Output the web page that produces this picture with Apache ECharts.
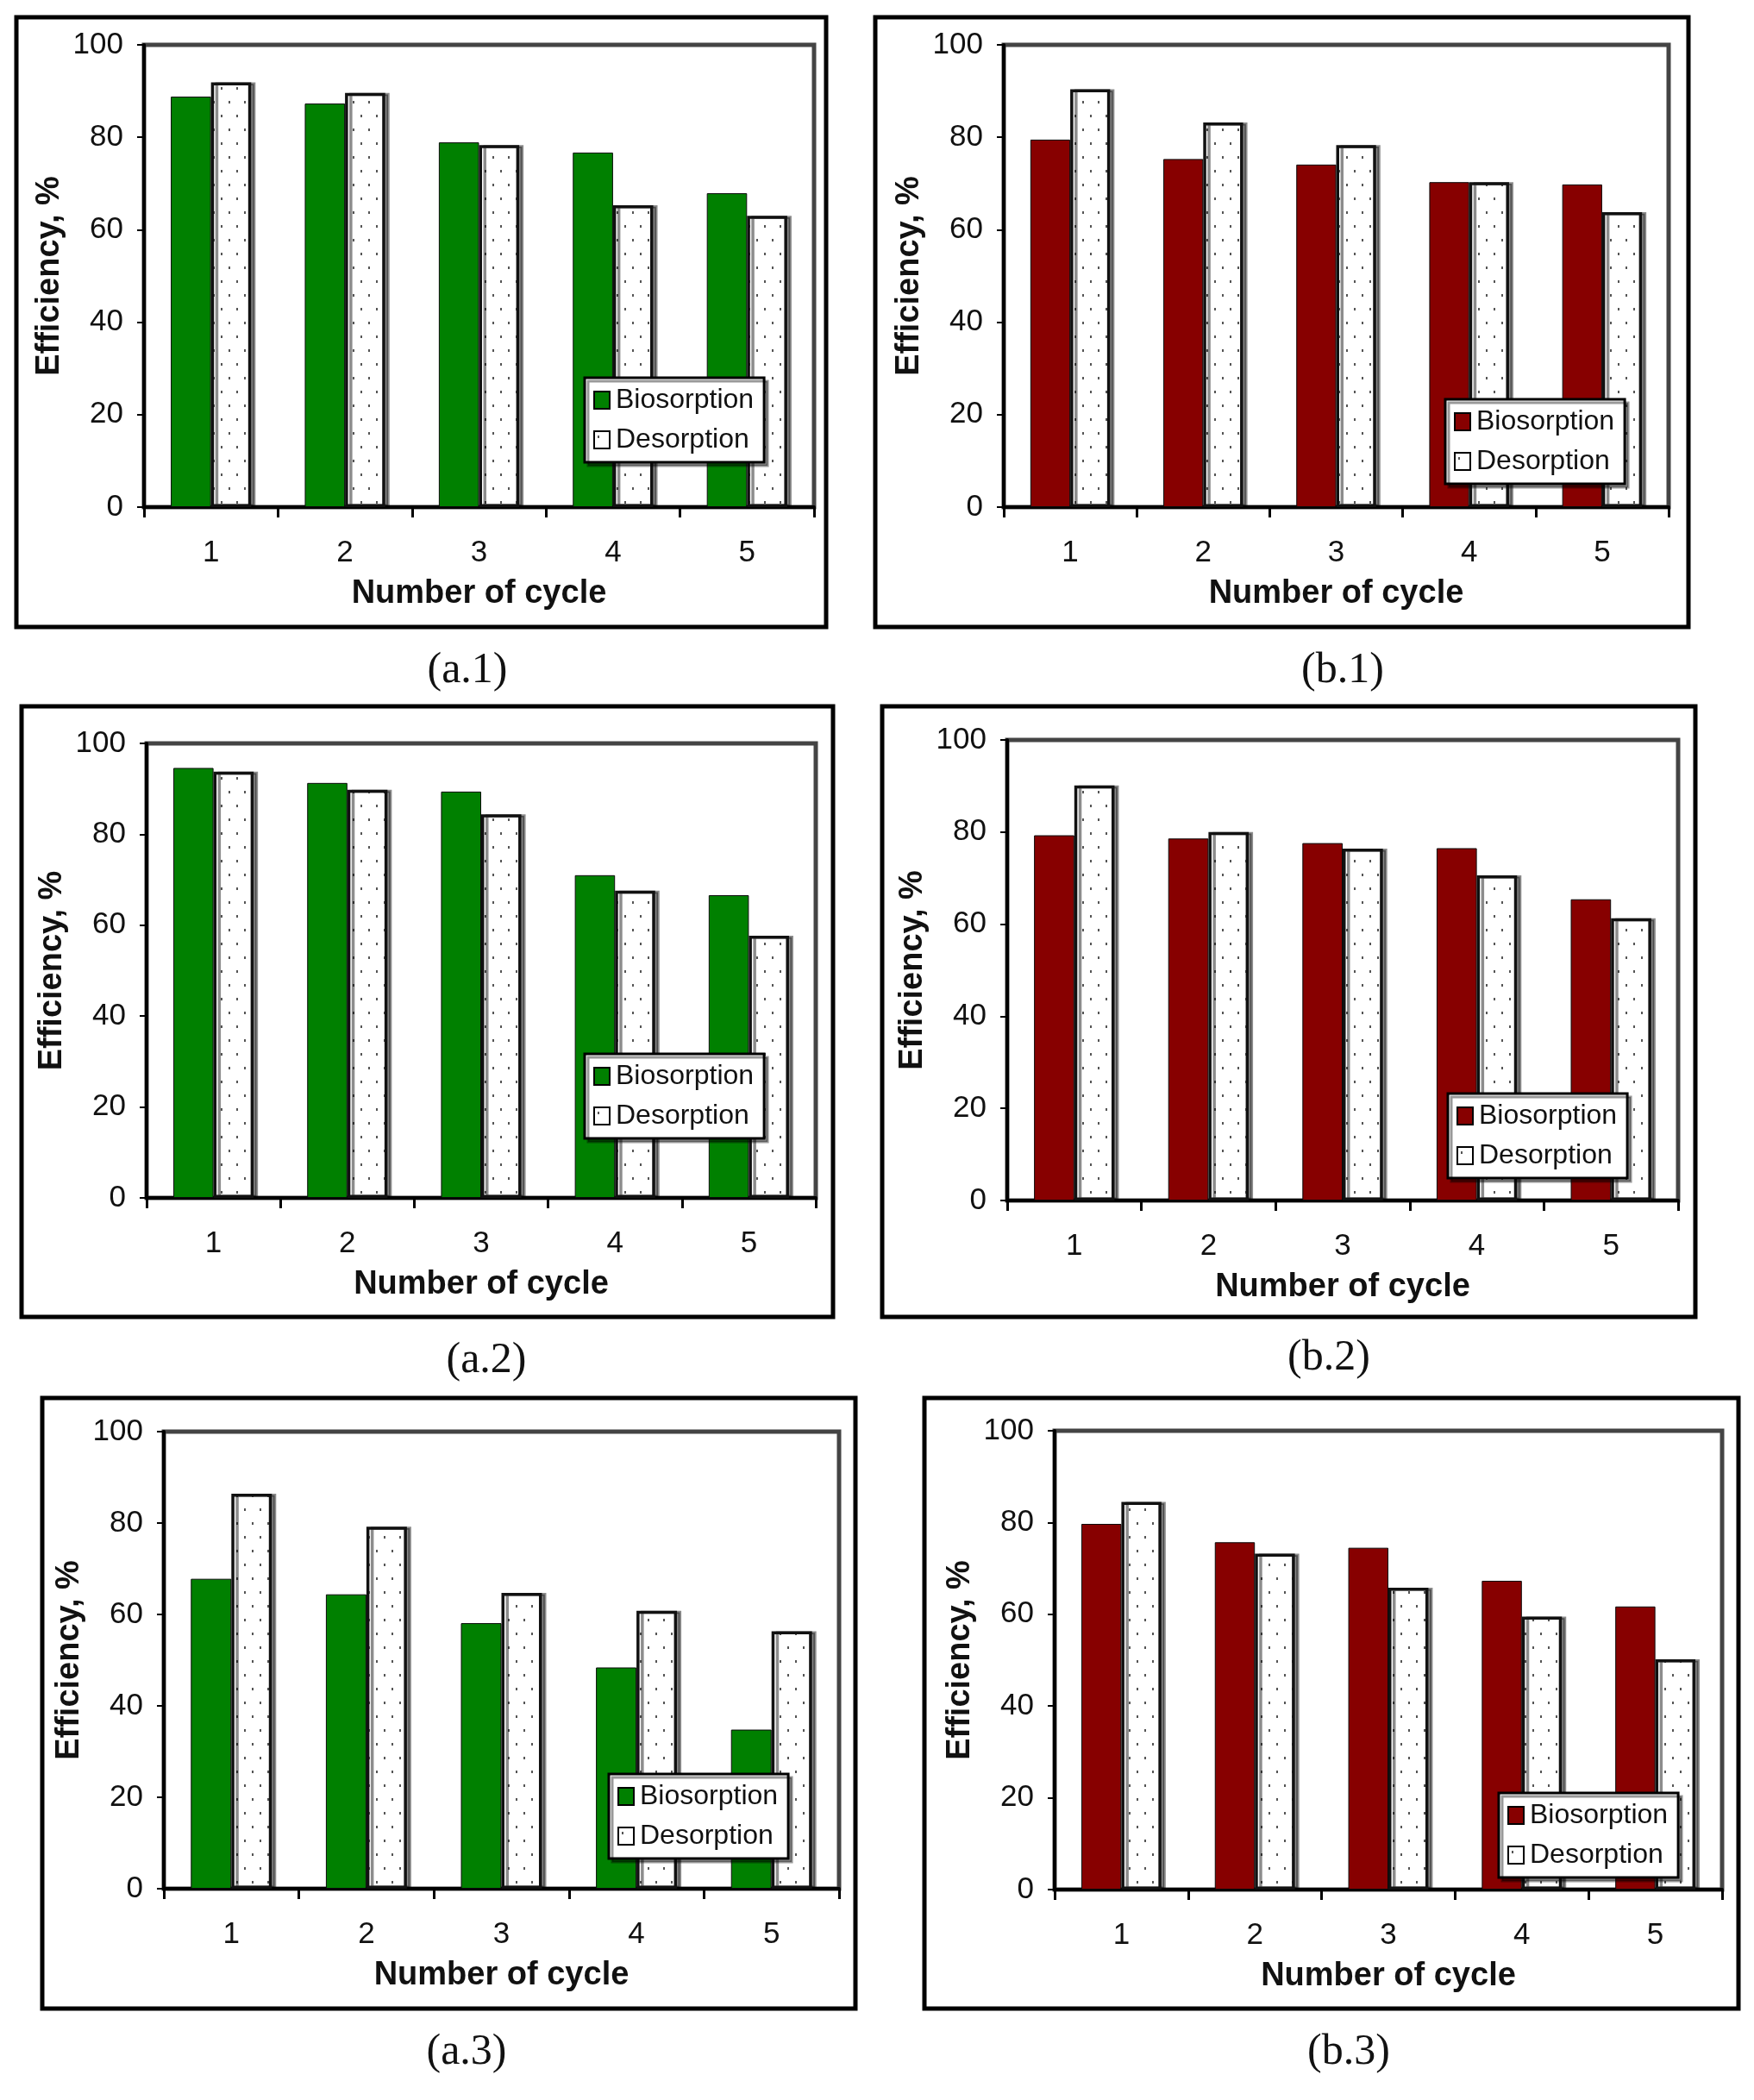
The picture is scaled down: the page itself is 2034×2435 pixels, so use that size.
<!DOCTYPE html>
<html><head><meta charset="utf-8">
<script src="https://cdn.jsdelivr.net/npm/echarts@6/dist/echarts.min.js"></script>
<style>html,body{margin:0;padding:0;background:#fff}#c{width:2034px;height:2435px}</style>
</head><body><div id="c"></div>
<script>
// ---------------- data ----------------
const cycles = ['1', '2', '3', '4', '5'];
const yTicks = [0, 20, 40, 60, 80, 100];
const seriesNames = ['Biosorption', 'Desorption'];
const xTitle = 'Number of cycle';
const yTitle = 'Efficiency, %';
const captions = ['(a.1)', '(b.1)', '(a.2)', '(b.2)', '(a.3)', '(b.3)'];

const bioA1 = [88.8, 87.3, 78.9, 76.7, 67.9];
const desA1 = [91.9, 89.6, 78.3, 65.3, 63.0];
const bioB1 = [79.5, 75.3, 74.1, 70.3, 69.8];
const desB1 = [90.4, 83.2, 78.3, 70.3, 63.8];
const bioA2 = [94.6, 91.3, 89.4, 71.0, 66.6];
const desA2 = [93.8, 89.8, 84.4, 67.6, 57.7];
const bioB2 = [79.3, 78.6, 77.6, 76.5, 65.4];
const desB2 = [90.1, 80.0, 76.4, 70.6, 61.3];
const bioA3 = [67.8, 64.4, 58.1, 48.4, 34.8];
const desA3 = [86.4, 79.2, 64.7, 60.8, 56.3];
const bioB3 = [79.7, 75.7, 74.5, 67.3, 61.7];
const desB3 = [84.5, 73.2, 65.8, 59.5, 50.2];

const panelBio = [bioA1, bioB1, bioA2, bioB2, bioA3, bioB3];
const panelDes = [desA1, desB1, desA2, desB2, desA3, desB3];

// ---------------- layout / style ----------------
const GREEN = '#008000', RED = '#870000';
const panelColor = [GREEN, RED, GREEN, RED, GREEN, RED];
const layout = [
  {box: [19, 20, 958, 727],    grid: [167, 52, 944, 588],    legend: [678, 438],   cap: [542, 778]},
  {box: [1015, 20, 1958, 727], grid: [1164, 52, 1935, 588],  legend: [1676, 463],  cap: [1557, 778]},
  {box: [25, 819, 966, 1527],  grid: [170, 862, 946, 1389],  legend: [678, 1222],  cap: [564, 1578]},
  {box: [1023, 819, 1966, 1527], grid: [1168, 858, 1946, 1392], legend: [1679, 1268], cap: [1541, 1575]},
  {box: [49, 1621, 992, 2329], grid: [190, 1660, 973, 2190], legend: [706, 2057],  cap: [541, 2380]},
  {box: [1072, 1621, 2016, 2329], grid: [1223, 1659, 1997, 2191], legend: [1738, 2079], cap: [1564, 2380]}
];

// dotted fill pattern for desorption bars
const pat = document.createElement('canvas');
pat.width = 18; pat.height = 32;
const pc = pat.getContext('2d');
pc.fillStyle = '#ffffff'; pc.fillRect(0, 0, 18, 32);
pc.fillStyle = '#555555';
pc.fillRect(4, 5, 2, 3);
pc.fillRect(13, 21, 2, 3);

const SANS = '"Liberation Sans", Arial, sans-serif';

const grids = [], xAxes = [], yAxes = [], series = [], legends = [], graphics = [];
layout.forEach((L, i) => {
  const [l, t, r, b] = L.grid;
  grids.push({left: l, top: t, width: r - l, height: b - t, show: true,
    backgroundColor: '#fff', borderColor: '#444', borderWidth: 5, containLabel: false});
  xAxes.push({type: 'category', gridIndex: i, data: cycles, boundaryGap: true,
    name: xTitle, nameLocation: 'middle', nameGap: 82,
    nameTextStyle: {fontFamily: SANS, fontSize: 38, fontWeight: 'bold', color: '#111'},
    axisLine: {show: true, lineStyle: {color: '#000', width: 4}},
    axisTick: {show: true, inside: false, length: 12, alignWithLabel: false, interval: 0,
      lineStyle: {color: '#000', width: 3}},
    axisLabel: {fontFamily: SANS, fontSize: 35, color: '#111', margin: 36, interval: 0},
    splitLine: {show: false}});
  yAxes.push({type: 'value', gridIndex: i, min: yTicks[0], max: yTicks[yTicks.length - 1],
    interval: yTicks[1] - yTicks[0],
    name: yTitle, nameLocation: 'middle', nameGap: 90, nameRotate: 90,
    nameTextStyle: {fontFamily: SANS, fontSize: 38, fontWeight: 'bold', color: '#111'},
    axisLine: {show: true, lineStyle: {color: '#000', width: 4}},
    axisTick: {show: true, inside: false, length: 8, lineStyle: {color: '#000', width: 2}},
    axisLabel: {fontFamily: SANS, fontSize: 35, color: '#111', margin: 24},
    splitLine: {show: false}});
  const nb = 'p' + i + '|' + seriesNames[0];
  const nd = 'p' + i + '|' + seriesNames[1];
  series.push({type: 'bar', name: nb, xAxisIndex: i, yAxisIndex: i, data: panelBio[i],
    barGap: '0%', barCategoryGap: '40%',
    itemStyle: {color: panelColor[i], borderColor: '#0a0a0a', borderWidth: 1}});
  series.push({type: 'bar', name: nd, xAxisIndex: i, yAxisIndex: i, data: panelDes[i],
    barGap: '0%', barCategoryGap: '40%',
    itemStyle: {color: {image: pat, repeat: 'repeat'}, borderColor: '#111', borderWidth: 3.5,
      shadowColor: 'rgba(0,0,0,0.45)', shadowOffsetX: 5, shadowOffsetY: 0, shadowBlur: 0}});
  legends.push({data: [nb, nd], orient: 'vertical', left: L.legend[0], top: L.legend[1],
    formatter: n => n.split('|')[1],
    backgroundColor: '#fff', borderColor: '#000', borderWidth: 3,
    shadowColor: 'rgba(0,0,0,0.4)', shadowOffsetX: 4, shadowOffsetY: 4, shadowBlur: 0,
    padding: [10, 12, 10, 10], itemGap: 14, itemWidth: 18, itemHeight: 20, icon: 'rect',
    selectedMode: false,
    itemStyle: {borderColor: '#000', borderWidth: 2, shadowColor: 'transparent'},
    textStyle: {fontFamily: SANS, fontSize: 32, color: '#111', padding: [0, 0, 0, 2]}});
  const [x0, y0, x1, y1] = L.box;
  graphics.push({type: 'rect', silent: true, z: 0,
    shape: {x: x0, y: y0, width: x1 - x0, height: y1 - y0},
    style: {fill: null, stroke: '#000', lineWidth: 5}});
  graphics.push({type: 'text', silent: true, x: L.cap[0], y: L.cap[1],
    style: {text: captions[i], font: '50px "Liberation Serif", "Times New Roman", serif',
      fill: '#111', textAlign: 'center', textVerticalAlign: 'middle'}});
});

const chart = echarts.init(document.getElementById('c'), null, {renderer: 'canvas'});
chart.setOption({
  backgroundColor: '#fff',
  animation: false,
  grid: grids, xAxis: xAxes, yAxis: yAxes, series: series, legend: legends,
  graphic: graphics
});
</script></body></html>
